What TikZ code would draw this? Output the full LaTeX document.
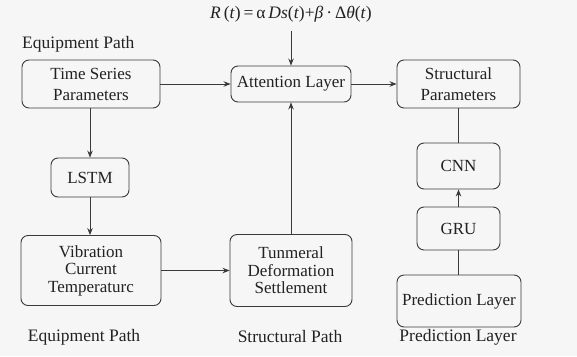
\documentclass[tikz,border=0pt]{standalone}
\usepackage{fontspec}
\setmainfont{Liberation Serif}
\usetikzlibrary{arrows.meta}
\definecolor{bg}{HTML}{F6F6F6}
\definecolor{ln}{HTML}{3A3A3A}
\definecolor{tx}{HTML}{222222}
\tikzset{
  box/.style={draw=ln, line width=0.9pt, rounded corners=7pt, align=center, text=tx,
    font=\fontsize{17}{20}\selectfont, inner sep=0pt},
  lbl/.style={text=tx, font=\fontsize{17.5}{20}\selectfont, inner sep=0pt},
  conn/.style={draw=ln, line width=0.9pt},
  arr/.style={conn, -{Stealth[length=7pt,width=5.5pt]}},
}
\begin{document}
\begin{tikzpicture}[x=1pt,y=-1pt]
\fill[bg] (0,0) rectangle (577,356);
\useasboundingbox (0,0) rectangle (577,356);

\node[lbl] (formula) at (291,14) {\textit{R}\,(\textit{t})\,=\,α\,\textit{Ds}(\textit{t})+\textit{β}\,·\,Δ\textit{θ}(\textit{t})};
\node[lbl, anchor=west] (eqtop) at (22,44) {Equipment Path};

\node[box, minimum width=138pt, minimum height=48pt, font=\fontsize{17}{21}\selectfont] (tsp) at (91,84) {Time Series\\Parameters};
\node[box, minimum width=120pt, minimum height=36pt] (att) at (291,84) {Attention Layer};
\node[box, minimum width=123pt, minimum height=48pt, font=\fontsize{17}{21}\selectfont] (sp) at (458.5,84) {Structural\\Parameters};

\node[box, minimum width=78pt, minimum height=39pt] (lstm) at (90,177.5) {LSTM};
\node[box, minimum width=83pt, minimum height=46pt] (cnn) at (458.5,166) {CNN};
\node[box, minimum width=83pt, minimum height=43pt] (gru) at (458.5,228.5) {GRU};

\node[box, minimum width=140pt, minimum height=70pt, font=\fontsize{17}{17.5}\selectfont] (vib) at (91,270.5) {Vibration\\Current\\Temperaturc};
\node[box, minimum width=122pt, minimum height=72pt, font=\fontsize{17}{17.5}\selectfont] (tun) at (291,270.5) {Tunmeral\\Deformation\\Settlement};
\node[box, minimum width=124pt, minimum height=52pt] (pred) at (459,301) {Prediction Layer};

\node[lbl] (l1) at (84,337) {Equipment Path};
\node[lbl] (l2) at (290,337) {Structural Path};
\node[lbl] (l3) at (458,337) {Prediction Layer};

\draw[arr] (formula.south |- 0,31) -- (att.north);
\draw[arr] (tsp.east) -- (att.west);
\draw[arr] (att.east) -- (sp.west);
\draw[arr] (tsp.south -| lstm.north) -- (lstm.north);
\draw[arr] (lstm.south) -- (lstm.south |- vib.north);
\draw[arr] (vib.east) -- (tun.west);
\draw[arr] (tun.north) -- (att.south);
\draw[conn] (sp.south -| cnn.north) -- (cnn.north);
\draw[arr] (gru.north) -- (cnn.south);
\draw[conn] (pred.north -| gru.south) -- (gru.south);
\end{tikzpicture}
\end{document}
